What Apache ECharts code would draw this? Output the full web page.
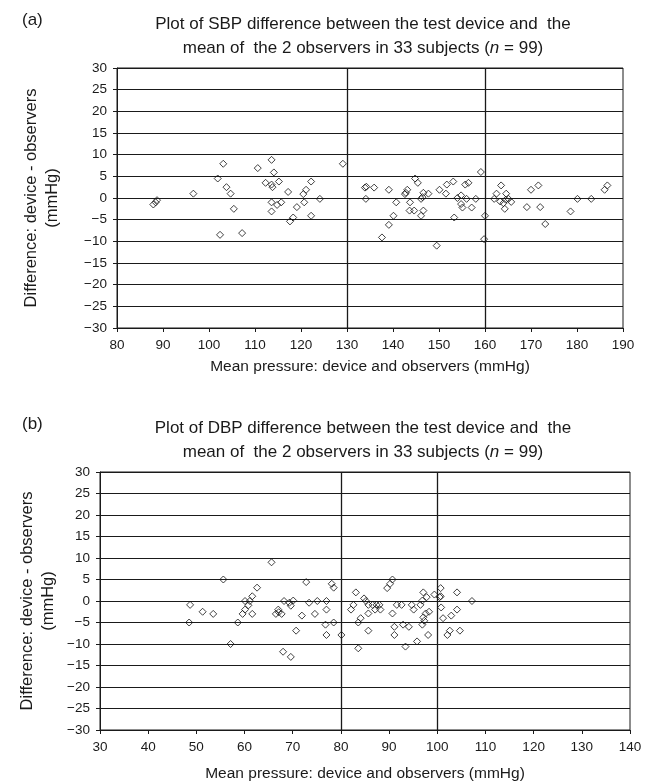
<!DOCTYPE html>
<html><head><meta charset="utf-8">
<script src="https://cdn.jsdelivr.net/npm/echarts@6/dist/echarts.min.js"></script>
<style>html,body{margin:0;padding:0;background:#fff}#c{width:647px;height:783px}</style>
</head><body><div id="c"></div>
<script>
const FONT = '"Liberation Sans Narrow","Liberation Sans",Arial,sans-serif';

// Panel (a): SBP
const sbpMean = [87.9,88.4,88.7,96.6,103.1,101.9,103.8,104.7,105.4,102.4,107.2,110.6,113.6,114.1,112.3,113.6,113.8,115.2,117.2,113.6,114.8,115.7,113.6,117.6,
  122.2,121.1,120.5,120.7,119.1,124.1,118.3,122.2,129.1,133.9,134.2,135.9,134.1,139.1,140.7,140.1,139.1,137.6,144.8,145.4,143.1,142.8,142.6,143.7,143.6,144.6,146.1,146.4,146.6,147.7,146.6,146.1,149.5,150.1,151.7,151.5,153.1,153.3,154.0,
  155.7,156.4,154.8,156.0,158.0,154.8,155.1,157.1,159.1,160.0,159.8,163.5,162.5,162.0,164.6,163.3,164.0,164.5,165.1,165.7,164.3,170.0,171.6,169.1,172.0,173.1,178.6,180.1,183.1,186.0,186.6];
const sbpDiff = [-1.5,-1.0,-0.5,1.0,7.9,4.5,2.5,1.0,-2.5,-8.5,-8.1,6.9,8.8,5.9,3.5,3.1,2.5,3.8,1.4,-1.0,-1.6,-1.0,-3.1,-5.4,
  3.8,1.9,0.9,-1.0,-2.1,-0.2,-4.5,-4.1,7.9,2.4,2.6,2.4,-0.2,1.9,-1.0,-4.1,-6.2,-9.1,4.5,3.5,1.9,1.2,0.9,-1.0,-2.9,-2.9,-0.2,0.2,1.2,1.0,-2.9,-4.1,-11.0,1.9,3.1,1.0,3.8,-4.5,0,
  3.1,3.5,0.6,-0.2,-0.2,-1.4,-2.2,-2.2,6.0,-4.1,-9.5,2.9,1.0,-0.2,1.0,-0.8,-1.2,-0.4,-0.2,-0.9,-2.5,1.9,2.9,-2.1,-2.1,-6.0,-3.1,-0.2,-0.2,1.9,2.9];

// Panel (b): DBP
const dbpMean = [65.6,55.6,48.7,48.5,51.3,53.5,57.1,58.6,60.1,60.8,61.1,61.6,62.6,60.1,59.6,61.6,67.0,67.1,66.5,67.7,68.2,69.3,69.6,70.1,70.7,68.0,69.6,71.9,72.8,73.4,74.6,75.1,77.0,77.0,76.8,78.5,77.0,78.1,78.5,
  80.1,83.1,82.6,82.1,84.8,85.2,85.7,86.6,87.4,88.0,87.1,88.2,85.7,84.1,83.6,85.7,83.6,89.6,90.2,90.7,90.7,91.6,92.6,91.1,91.1,92.9,94.1,93.4,94.7,95.1,95.8,96.5,96.9,97.1,97.8,97.6,97.1,98.3,97.3,96.9,98.1,99.4,100.7,100.7,100.5,100.8,101.2,102.9,104.1,104.1,102.1,102.6,104.7,107.2];
const dbpDiff = [9.0,5.0,-0.9,-5.0,-2.5,-3.0,-10.0,-5.0,0,-1.0,0,1.1,3.1,-2.0,-3.0,-3.0,-2.0,-2.6,-3.0,-3.0,0,-0.4,-1.1,0.1,-6.9,-11.8,-13.0,-3.4,4.4,-0.4,-3.0,0,0,-2.0,-5.5,-5.0,-7.9,4.0,3.1,
  -7.9,2.0,-0.9,-2.0,0.6,0,-0.9,-0.9,-0.9,-0.9,-2.0,-2.0,-2.9,-4.0,-5.0,-6.9,-11.0,3.0,4.0,5.0,-2.9,-0.9,-0.9,-6.0,-7.9,-5.5,-6.0,-10.6,-0.9,-2.0,-9.4,-0.9,0.1,2.0,0.9,-2.9,-3.8,-2.5,-4.6,-5.5,-7.9,1.5,3.0,1.1,0.9,-1.5,-4.0,-3.4,2.0,-2.0,-7.9,-6.9,-6.9,0];

const sbpXRange = [80, 190];
const dbpXRange = [30, 140];
const yRange = [-30, 30];
const xStep = 10, yStep = 5;
const sbpRefLines = [130, 160];
const dbpRefLines = [80, 100];

const panelLabels = ['(a)', '(b)'];
const titles = [
  'Plot of SBP difference between the test device and  the\nmean of  the 2 observers in 33 subjects ({i|n} = 99)',
  'Plot of DBP difference between the test device and  the\nmean of  the 2 observers in 33 subjects ({i|n} = 99)'
];
const xTitle = 'Mean pressure: device and observers (mmHg)';
const yTitle1 = 'Difference: device - observers';
const yTitle2 = '(mmHg)';

const INK = '#1a1a1a';
const zip = (a, b) => a.map((v, i) => [v, b[i]]);
const yFmt = v => v < 0 ? '\u2212' + Math.abs(v) : String(v);

function xAxis(range, gi, gap) {
  return {
    type: 'value', gridIndex: gi, min: range[0], max: range[1], interval: xStep,
    axisLine: { show: true, onZero: false, lineStyle: { color: INK, width: 1 } },
    axisTick: { show: true, length: 4, lineStyle: { color: INK } },
    splitLine: { show: false },
    axisLabel: { color: INK, fontSize: 13.5, fontFamily: FONT, margin: 10 },
    name: xTitle, nameLocation: 'middle', nameGap: gap,
    nameTextStyle: { color: INK, fontSize: 15.5, fontFamily: FONT }
  };
}
function yAxis(gi) {
  return {
    type: 'value', gridIndex: gi, min: yRange[0], max: yRange[1], interval: yStep,
    axisLine: { show: true, onZero: false, lineStyle: { color: INK, width: 1 } },
    axisTick: { show: true, length: 4, lineStyle: { color: INK } },
    splitLine: { show: true, lineStyle: { color: INK, width: 1 } },
    axisLabel: { color: INK, fontSize: 13.5, fontFamily: FONT, margin: 10, formatter: yFmt }
  };
}
function series(xs, ys, refs, gi) {
  return {
    type: 'scatter', xAxisIndex: gi, yAxisIndex: gi,
    data: zip(xs, ys),
    symbol: 'diamond', symbolSize: 7,
    itemStyle: { color: 'rgba(255,255,255,0)', borderColor: '#111', borderWidth: 1 },
    silent: true,
    markLine: {
      silent: true, symbol: ['none', 'none'], label: { show: false },
      lineStyle: { color: INK, type: 'solid', width: 1.3 },
      data: refs.map(v => ({ xAxis: v }))
    }
  };
}
function titleBlock(i, top) {
  return [
    { text: panelLabels[i], left: 17, top: top, textStyle: { fontSize: 17, fontWeight: 'normal', fontFamily: FONT, color: INK } },
    { text: titles[i], left: 358, textAlign: 'center', top: top,
      textStyle: { fontSize: 17, lineHeight: 24, fontWeight: 'normal', fontFamily: FONT, color: INK,
        rich: { i: { fontStyle: 'italic', fontSize: 17, lineHeight: 24, fontFamily: FONT, color: INK } } } }
  ];
}
function yTitle(x1, x2, yc) {
  const st = t => ({ text: t, fill: INK, font: '16.5px ' + FONT, textAlign: 'center', textVerticalAlign: 'middle' });
  return [
    { type: 'text', x: x1, y: yc, rotation: Math.PI / 2, style: st(yTitle1), silent: true },
    { type: 'text', x: x2, y: yc, rotation: Math.PI / 2, style: st(yTitle2), silent: true }
  ];
}

const chart = echarts.init(document.getElementById('c'), null, { renderer: 'canvas' });
chart.setOption({
  animation: false,
  backgroundColor: '#fff',
  title: [...titleBlock(0, 7), ...titleBlock(1, 411)],
  grid: [
    { left: 117, right: 24, top: 68, height: 260, show: true, borderColor: INK, borderWidth: 1, backgroundColor: 'transparent' },
    { left: 100, right: 17, top: 472, height: 258, show: true, borderColor: INK, borderWidth: 1, backgroundColor: 'transparent' }
  ],
  xAxis: [xAxis(sbpXRange, 0, 31), xAxis(dbpXRange, 1, 36)],
  yAxis: [yAxis(0), yAxis(1)],
  series: [series(sbpMean, sbpDiff, sbpRefLines, 0), series(dbpMean, dbpDiff, dbpRefLines, 1)],
  graphic: [...yTitle(31, 52, 198), ...yTitle(27, 48, 601)]
});
</script></body></html>
